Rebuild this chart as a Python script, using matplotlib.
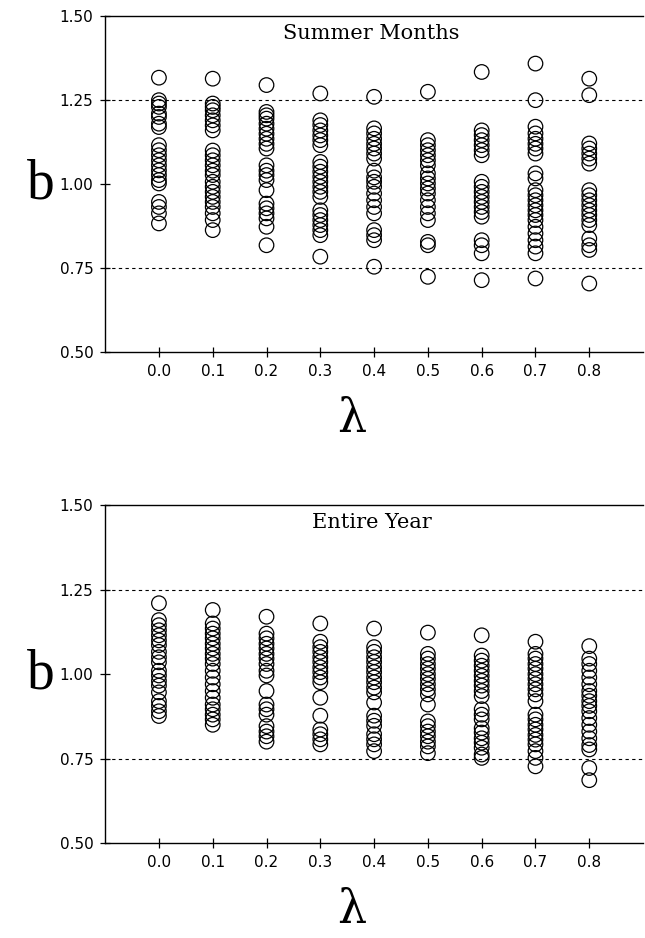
import matplotlib.pyplot as plt
import numpy as np

lambdas = [0.0, 0.1, 0.2, 0.3, 0.4, 0.5, 0.6, 0.7, 0.8]

# b values, one list per lambda
summer = [
    [1.317, 1.25, 1.24, 1.23, 1.21, 1.20, 1.18, 1.17, 1.116, 1.101, 1.086, 1.071,
     1.056, 1.041, 1.027, 1.012, 1.002, 0.947, 0.932, 0.913, 0.883],
    [1.314, 1.24, 1.23, 1.22, 1.205, 1.19, 1.175, 1.16, 1.10, 1.086, 1.071, 1.056,
     1.04, 1.027, 1.007, 0.992, 0.977, 0.962, 0.947, 0.932, 0.913, 0.893, 0.863],
    [1.295, 1.215, 1.205, 1.195, 1.18, 1.165, 1.15, 1.135, 1.12, 1.106, 1.056, 1.04,
     1.027, 1.012, 0.982, 0.942, 0.928, 0.913, 0.898, 0.873, 0.818],
    [1.27, 1.19, 1.176, 1.16, 1.145, 1.131, 1.116, 1.066, 1.052, 1.037, 1.022, 1.007,
     0.992, 0.977, 0.962, 0.922, 0.908, 0.893, 0.878, 0.863, 0.848, 0.784],
    [1.26, 1.166, 1.151, 1.135, 1.12, 1.106, 1.091, 1.076, 1.04, 1.02, 1.007, 0.992,
     0.972, 0.952, 0.932, 0.913, 0.863, 0.848, 0.833, 0.754],
    [1.275, 1.131, 1.116, 1.101, 1.086, 1.071, 1.056, 1.032, 1.017, 1.002, 0.987,
     0.972, 0.952, 0.932, 0.913, 0.893, 0.828, 0.818, 0.724],
    [1.334, 1.16, 1.146, 1.131, 1.116, 1.101, 1.086, 1.007, 0.992, 0.977, 0.962,
     0.947, 0.932, 0.917, 0.903, 0.833, 0.818, 0.794, 0.714],
    [1.359, 1.25, 1.171, 1.151, 1.135, 1.12, 1.106, 1.091, 1.032, 1.017, 0.982,
     0.967, 0.952, 0.937, 0.922, 0.908, 0.893, 0.873, 0.853, 0.833, 0.814, 0.794, 0.719],
    [1.314, 1.265, 1.121, 1.106, 1.091, 1.076, 1.061, 0.982, 0.967, 0.952, 0.937,
     0.922, 0.908, 0.893, 0.878, 0.838, 0.818, 0.804, 0.704],
]

year = [
    [1.21, 1.16, 1.145, 1.13, 1.115, 1.10, 1.086, 1.066, 1.05, 1.035, 1.01, 0.996,
     0.98, 0.966, 0.946, 0.92, 0.906, 0.89, 0.876],
    [1.19, 1.15, 1.135, 1.12, 1.106, 1.09, 1.076, 1.06, 1.046, 1.03, 1.01, 0.99,
     0.97, 0.95, 0.93, 0.91, 0.896, 0.88, 0.866, 0.85],
    [1.17, 1.12, 1.106, 1.09, 1.076, 1.06, 1.046, 1.03, 1.01, 0.996, 0.95, 0.91,
     0.896, 0.88, 0.846, 0.83, 0.816, 0.80],
    [1.15, 1.096, 1.08, 1.066, 1.05, 1.036, 1.02, 1.006, 0.99, 0.976, 0.93, 0.877,
     0.836, 0.822, 0.807, 0.792],
    [1.135, 1.08, 1.066, 1.05, 1.036, 1.02, 1.006, 0.99, 0.976, 0.96, 0.946, 0.916,
     0.877, 0.862, 0.847, 0.822, 0.807, 0.792, 0.772],
    [1.123, 1.06, 1.046, 1.03, 1.016, 1.0, 0.986, 0.97, 0.955, 0.94, 0.91, 0.86,
     0.846, 0.83, 0.816, 0.80, 0.786, 0.766],
    [1.115, 1.055, 1.04, 1.025, 1.01, 0.995, 0.98, 0.966, 0.95, 0.935, 0.896, 0.88,
     0.866, 0.84, 0.827, 0.81, 0.797, 0.782, 0.762, 0.752],
    [1.096, 1.06, 1.046, 1.03, 1.016, 1.0, 0.986, 0.97, 0.955, 0.94, 0.92, 0.88,
     0.866, 0.85, 0.836, 0.82, 0.806, 0.792, 0.772, 0.752, 0.727],
    [1.083, 1.046, 1.03, 1.01, 0.99, 0.97, 0.95, 0.936, 0.92, 0.906, 0.89, 0.87,
     0.85, 0.83, 0.81, 0.79, 0.777, 0.722, 0.686],
]

titles = ['Summer Months', 'Entire Year']
yticks = [0.50, 0.75, 1.00, 1.25, 1.50]

fig = plt.figure(figsize=(6.45, 9.38), dpi=100)
ax1 = fig.add_axes([0.163, 0.6247, 0.834, 0.358])
ax2 = fig.add_axes([0.163, 0.1013, 0.834, 0.360])

for ax, data, title in zip([ax1, ax2], [summer, year], titles):
    for lam, vals in zip(lambdas, data):
        ax.scatter([lam] * len(vals), vals, s=110, facecolors='none',
                   edgecolors='black', linewidths=0.9, zorder=3)
    # reference lines
    ax.axhline(1.25, color='black', ls=(0, (3, 3)), lw=0.8)
    ax.axhline(0.75, color='black', ls=(0, (3, 3)), lw=0.8)

    ax.set_xlim(-0.1, 0.9)
    ax.set_ylim(0.5, 1.5)
    ax.set_xticks(lambdas)
    ax.set_xticklabels(['%.1f' % l for l in lambdas])
    ax.set_yticks(yticks)
    ax.set_yticklabels(['%.2f' % t for t in yticks])
    ax.tick_params(direction='inout', length=7, width=0.9, labelsize=11, pad=5)
    ax.spines['right'].set_visible(False)
    for s in ['left', 'bottom', 'top']:
        ax.spines[s].set_linewidth(1.0)

    ax.text(0.495, 0.95, title, transform=ax.transAxes, ha='center', va='center',
            fontsize=15, family='DejaVu Serif')
    ax.text(-0.12, 0.5, 'b', transform=ax.transAxes, ha='center', va='center',
            fontsize=40, family='Liberation Serif')
    ax.text(0.459, -0.2, '\u03bb', transform=ax.transAxes, ha='center',
            va='center', fontsize=33, family='DejaVu Serif')

fig.savefig('out.png', dpi=100)
